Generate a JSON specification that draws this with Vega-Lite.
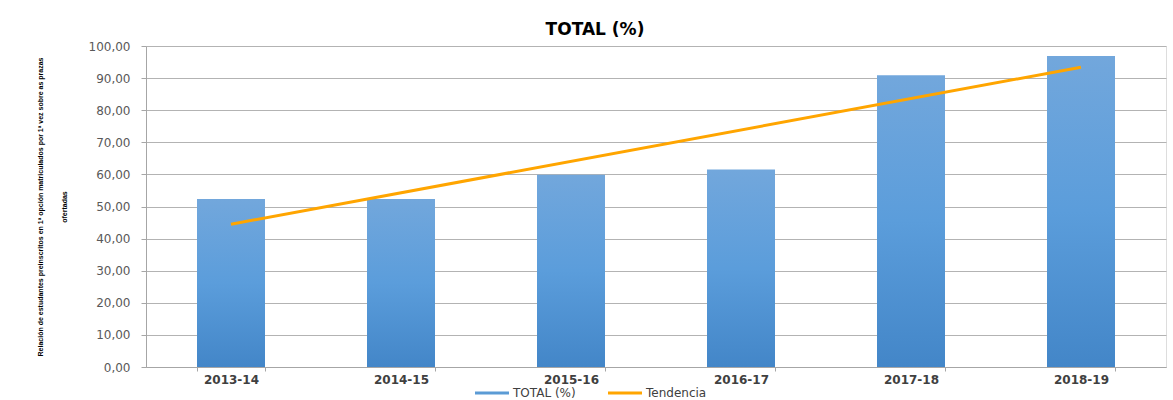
{
  "$schema": "https://vega.github.io/schema/vega-lite/v6.json",
  "width": 1020,
  "height": 321,
  "autosize": "none",
  "padding": {"left": 146, "top": 46, "right": 7, "bottom": 33},
  "background": "white",
  "title": {
    "text": "TOTAL (%)",
    "font": "DejaVu Sans",
    "fontSize": 17,
    "fontWeight": "bold",
    "color": "#000000",
    "anchor": "middle",
    "dx": -61,
    "offset": 1
  },
  "datasets": {
    "bars": [
      {"curso": "2013-14", "valor": 52.3},
      {"curso": "2014-15", "valor": 52.3},
      {"curso": "2015-16", "valor": 59.9},
      {"curso": "2016-17", "valor": 61.5},
      {"curso": "2017-18", "valor": 90.9},
      {"curso": "2018-19", "valor": 96.9}
    ],
    "trend": [
      {"curso": "2013-14", "valor": 44.5, "serie": "Tendencia"},
      {"curso": "2018-19", "valor": 93.4, "serie": "Tendencia"}
    ]
  },
  "encoding": {
    "x": {
      "field": "curso",
      "type": "nominal",
      "sort": null,
      "scale": {"paddingInner": 0.6, "paddingOuter": 0.3, "domain": ["2013-14", "2014-15", "2015-16", "2016-17", "2017-18", "2018-19"]},
      "axis": {
        "title": null,
        "labelAngle": 0,
        "labelFont": "DejaVu Sans",
        "labelFontSize": 12,
        "labelFontWeight": "bold",
        "labelColor": "#404040",
        "labelPadding": 3,
        "tickBand": "extent",
        "tickSize": 4,
        "tickColor": "#a6a6a6",
        "domainColor": "#a6a6a6",
        "grid": false
      }
    },
    "y": {
      "field": "valor",
      "type": "quantitative",
      "scale": {"domain": [0, 100], "nice": false},
      "axis": {
        "values": [0, 10, 20, 30, 40, 50, 60, 70, 80, 90, 100],
        "labelOverlap": false,
        "labelExpr": "replace(format(datum.value, '.2f'), '.', ',')",
        "labelFont": "DejaVu Sans",
        "labelFontSize": 12,
        "labelColor": "#595959",
        "labelPadding": 11,
        "tickSize": 5,
        "tickColor": "#a6a6a6",
        "domainColor": "#a6a6a6",
        "gridColor": "#b3b3b3",
        "title": ["Relación de estudantes preinscritos en 1ª opción matriculados  por 1ª vez sobre as prazas", "ofertadas"],
        "titleFont": "Liberation Sans",
        "titleFontSize": 7,
        "titleFontWeight": "bold",
        "titleColor": "#000000",
        "titleLineHeight": 24,
        "titleX": -110,
        "titleBaseline": "top",
        "titleAngle": 270
      }
    }
  },
  "layer": [
    {
      "data": {"name": "bars"},
      "mark": {
        "type": "bar",
        "fill": {
          "gradient": "linear",
          "x1": 0, "y1": 0, "x2": 0, "y2": 1,
          "stops": [
            {"offset": 0, "color": "#72a7dc"},
            {"offset": 0.5, "color": "#5b9ddb"},
            {"offset": 1, "color": "#4386c8"}
          ]
        }
      }
    },
    {
      "data": {"name": "trend"},
      "mark": {"type": "line", "strokeWidth": 3},
      "encoding": {
        "color": {
          "field": "serie",
          "type": "nominal",
          "scale": {"domain": ["TOTAL (%)", "Tendencia"], "range": ["#5b9bd5", "#ffa500"]},
          "legend": {
            "title": null,
            "orient": "none",
            "legendX": 329,
            "legendY": 330,
            "direction": "horizontal",
            "symbolType": "M-1,-0.09H1V0.09H-1Z",
            "symbolSize": 1156,
            "symbolStrokeWidth": 0,
            "labelFont": "DejaVu Sans",
            "labelFontSize": 12,
            "labelColor": "#404040",
            "columnPadding": 32,
            "labelOffset": 4,
            "encode": {
              "symbols": {
                "update": {
                  "fill": {"scale": "color", "field": "value"},
                  "stroke": {"value": "transparent"}
                }
              }
            }
          }
        }
      }
    }
  ]
}
